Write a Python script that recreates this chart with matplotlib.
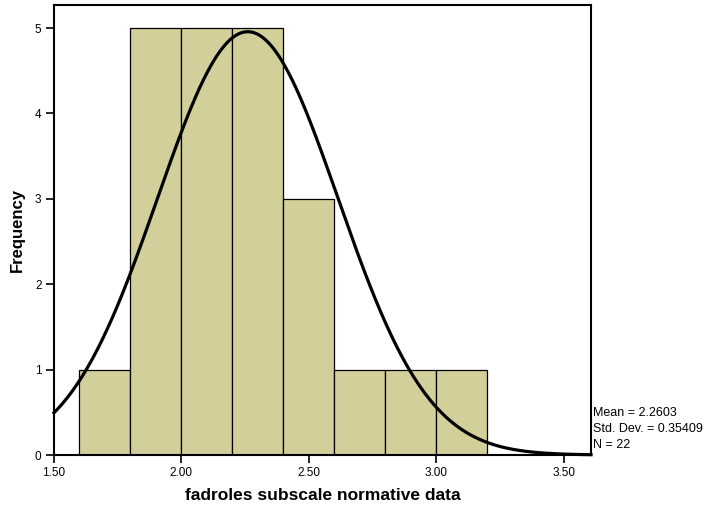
import numpy as np
import matplotlib
matplotlib.use('Agg')
import matplotlib.pyplot as plt

plt.rcParams['font.family'] = ['Liberation Sans', 'DejaVu Sans']

# Histograma: bordes de clase y frecuencias
bordes = [1.6, 1.8, 2.0, 2.2, 2.4, 2.6, 2.8, 3.0, 3.2]
frecuencias = [1, 5, 5, 5, 3, 1, 1, 1]

# Estadisticos mostrados en la figura (curva normal ajustada)
media = 2.2603
desv = 0.35409
n = 22

x_ticks = [1.5, 2.0, 2.5, 3.0, 3.5]
x_tick_labels = ['1.50', '2.00', '2.50', '3.00', '3.50']
y_ticks = [0, 1, 2, 3, 4, 5]

fig = plt.figure(figsize=(7.15, 5.12), dpi=100)
ax = fig.add_axes([54 / 715, 1 - 455 / 512, (591 - 54) / 715, (455 - 5) / 512])

anchos = np.diff(bordes)
ax.bar(bordes[:-1], frecuencias, width=anchos, align='edge',
       color='#d3cf9b', edgecolor='black', linewidth=0.9, zorder=2)

x_lim = (1.5, 3.607)
xs = np.linspace(x_lim[0], x_lim[1], 400)
ancho_clase = bordes[1] - bordes[0]
ys = n * ancho_clase * np.exp(-0.5 * ((xs - media) / desv) ** 2) / (desv * np.sqrt(2 * np.pi))
ax.plot(xs, ys, color='black', linewidth=2.3, zorder=3, clip_on=False)

ax.set_xlim(*x_lim)
ax.set_ylim(0, 5.27)
ax.set_xticks(x_ticks)
ax.set_xticklabels(x_tick_labels)
ax.set_yticks(y_ticks)
ax.tick_params(direction='out', length=6, width=1.2, labelsize=8.5, colors='black', pad=3)

for s in ax.spines.values():
    s.set_linewidth(1.5)

ax.set_xlabel('fadroles subscale normative data', fontsize=12.5, fontweight='bold', labelpad=6)
ax.set_ylabel('Frequency', fontsize=12, fontweight='bold', labelpad=7)

ax.text(1.003, 0.093, 'Mean = 2.2603', transform=ax.transAxes, fontsize=9, va='center', ha='left')
ax.text(1.003, 0.058, 'Std. Dev. = 0.35409', transform=ax.transAxes, fontsize=9, va='center', ha='left')
ax.text(1.003, 0.023, 'N = 22', transform=ax.transAxes, fontsize=9, va='center', ha='left')

fig.savefig('out.png', dpi=100)
